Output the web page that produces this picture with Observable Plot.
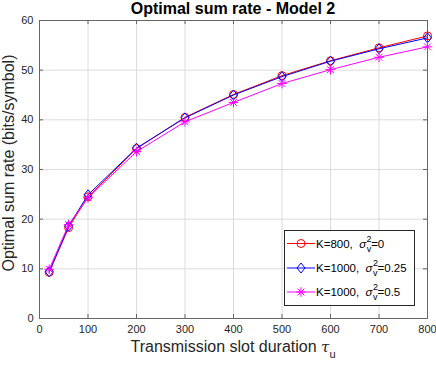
<!DOCTYPE html>
<html><head><meta charset="utf-8">
<script src="https://cdn.jsdelivr.net/npm/d3@7"></script>
<script src="https://cdn.jsdelivr.net/npm/@observablehq/plot@0.6"></script>
<style>body{margin:0;background:#fff}#chart{width:436px;height:365px}svg{font-family:"Liberation Sans",Arial,sans-serif}</style>
</head><body><div id="chart"></div>
<script>
const tau = [20, 60, 100, 200, 300, 400, 500, 600, 700, 800];
const rateK800 = [9.3, 18.3, 24.5, 34.2, 40.5, 45.1, 48.9, 51.9, 54.5, 56.9];
const rateK1000s025 = [9.4, 18.6, 24.9, 34.3, 40.4, 45.0, 48.7, 51.8, 54.3, 56.5];
const rateK1000s05 = [9.9, 18.9, 24.3, 33.6, 39.6, 43.5, 47.3, 50.1, 52.6, 54.7];
const xTicks = [0, 100, 200, 300, 400, 500, 600, 700, 800];
const yTicks = [0, 10, 20, 30, 40, 50, 60];
const seriesNames = ["K=800", "K=1000", "K=1000"];
const sigmaValues = ["0", "0.25", "0.5"];
const colors = ["#ff0000", "#0000ff", "#ff00ff"];
const titleText = "Optimal sum rate - Model 2";
const xLabel = "Transmission slot duration";
const yLabel = "Optimal sum rate (bits/symbol)";

const W = 436, H = 365, mL = 39, mR = 9, mT = 20, mB = 47;
const innerW = W - mL - mR, innerH = H - mT - mB;

const diamondSym = {draw(ctx, size){const r = Math.sqrt(size/Math.PI); ctx.moveTo(0,-r*1.25); ctx.lineTo(r,0); ctx.lineTo(0,r*1.25); ctx.lineTo(-r,0); ctx.closePath();}};

const mk = (vals) => tau.map((t,i)=>({x:t, y:vals[i]}));
const s1 = mk(rateK800), s2 = mk(rateK1000s025), s3 = mk(rateK1000s05);

const frameColor = "#666";
const plot = Plot.plot({
  width: W, height: H, marginLeft: mL, marginRight: mR, marginTop: mT, marginBottom: mB,
  style: {fontFamily: '"Liberation Sans", Arial, sans-serif', background: "#fff"},
  x: {domain: [0, 800]},
  y: {domain: [0, 60]},
  marks: [
    Plot.gridX(xTicks, {stroke: "#dcdcdc", strokeOpacity: 1}),
    Plot.gridY(yTicks, {stroke: "#dcdcdc", strokeOpacity: 1}),
    Plot.frame({stroke: frameColor}),
    Plot.tickX(xTicks, {x: d=>d, stroke: frameColor, insetTop: innerH - 4}),
    Plot.tickX(xTicks, {x: d=>d, stroke: frameColor, insetBottom: innerH - 4}),
    Plot.tickY(yTicks, {y: d=>d, stroke: frameColor, insetRight: innerW - 4}),
    Plot.tickY(yTicks, {y: d=>d, stroke: frameColor, insetLeft: innerW - 4}),
    Plot.axisX(xTicks, {tickSize: 0, tickPadding: 7, fontSize: 11, fill: "#262626", label: null}),
    Plot.axisY(yTicks, {tickSize: 0, tickPadding: 6, fontSize: 11, fill: "#262626", label: null}),
    Plot.line(s1, {x:"x", y:"y", stroke: colors[0], strokeWidth: 1}),
    Plot.dot(s1, {x:"x", y:"y", stroke: colors[0], r: 4, symbol: "circle", strokeWidth: 1}),
    Plot.line(s2, {x:"x", y:"y", stroke: colors[1], strokeWidth: 1}),
    Plot.dot(s2, {x:"x", y:"y", stroke: colors[1], r: 4, symbol: diamondSym, strokeWidth: 1}),
    Plot.line(s3, {x:"x", y:"y", stroke: colors[2], strokeWidth: 1}),
    Plot.dot(s3, {x:"x", y:"y", stroke: colors[2], r: 3.2, symbol: "plus", strokeWidth: 1}),
    Plot.dot(s3, {x:"x", y:"y", stroke: colors[2], r: 3.2, symbol: "times", strokeWidth: 1})
  ]
});
document.getElementById("chart").appendChild(plot);
const svg = d3.select(plot);

// title
svg.append("text").attr("x", mL + innerW/2).attr("y", 14).attr("text-anchor","middle")
  .attr("font-size", 16).attr("font-weight","bold").attr("fill","#000").text(titleText);
// y label
svg.append("text").attr("transform", `translate(13.5,163) rotate(-90)`).attr("text-anchor","middle")
  .attr("font-size", 16).attr("fill","#262626").text(yLabel);
// x label
const xl = svg.append("text").attr("x", mL + innerW/2).attr("y", 352).attr("text-anchor","middle")
  .attr("font-size", 16).attr("fill","#262626");
xl.append("tspan").text(xLabel + " ");
xl.append("tspan").attr("font-style","italic").attr("font-family","DejaVu Serif").attr("font-size",15).text("τ");
xl.append("tspan").attr("font-size",11).attr("dy",6).text("u");

// legend
const lg = svg.append("g").attr("text-anchor","start");
lg.append("rect").attr("x",284.5).attr("y",230.5).attr("width",130).attr("height",75)
  .attr("fill","#fff").attr("stroke","#262626").attr("stroke-width",1);
const rows = [243.5, 268, 292];
rows.forEach((ry, i) => {
  lg.append("line").attr("x1",287).attr("x2",315).attr("y1",ry).attr("y2",ry).attr("stroke",colors[i]);
  if (i === 0) {
    lg.append("path").attr("d", d3.symbol(d3.symbolCircle, Math.PI*16)()).attr("transform",`translate(301,${ry})`).attr("fill","none").attr("stroke",colors[i]);
  } else if (i === 1) {
    lg.append("path").attr("d", d3.symbol(diamondSym, Math.PI*16)()).attr("transform",`translate(301,${ry})`).attr("fill","none").attr("stroke",colors[i]);
  } else {
    lg.append("path").attr("d", d3.symbol(d3.symbolPlus, Math.PI*3.2*3.2)()).attr("transform",`translate(301,${ry})`).attr("fill","none").attr("stroke",colors[i]);
    lg.append("path").attr("d", d3.symbol(d3.symbolTimes, Math.PI*3.2*3.2)()).attr("transform",`translate(301,${ry})`).attr("fill","none").attr("stroke",colors[i]);
  }
  const t = lg.append("text").attr("x",316).attr("y",ry+4.3).attr("font-size",11.5).attr("fill","#000");
  t.append("tspan").text(seriesNames[i] + ",  ");
  t.append("tspan").attr("font-style","italic").text("σ");
  t.append("tspan").attr("font-size",9).attr("dy",-6).attr("dx",0.5).text("2");
  t.append("tspan").attr("font-size",9).attr("dx",-5).attr("dy",10).text("v");
  t.append("tspan").attr("dy",-4).text("=" + sigmaValues[i]);
});
</script>
</body></html>
